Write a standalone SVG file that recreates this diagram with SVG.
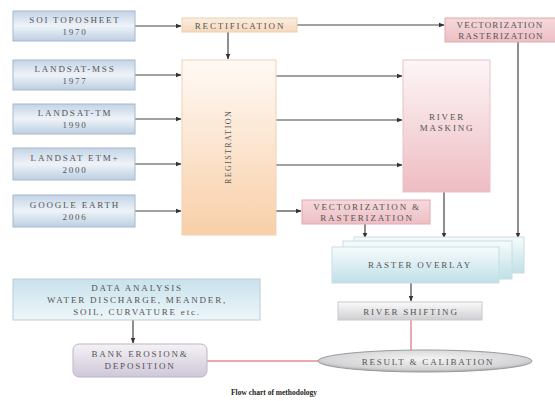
<svg xmlns="http://www.w3.org/2000/svg" width="555" height="401" viewBox="0 0 555 401">
<defs>
<linearGradient id="gBlue" x1="0" y1="0" x2="0" y2="1">
<stop offset="0" stop-color="#c3d4e6"/><stop offset="0.5" stop-color="#eef3f8"/><stop offset="1" stop-color="#bccfe2"/>
</linearGradient>
<linearGradient id="gOrange" x1="0" y1="0" x2="0" y2="1">
<stop offset="0" stop-color="#fffaf5"/><stop offset="1" stop-color="#f8cfa8"/>
</linearGradient>
<linearGradient id="gPeach" x1="0" y1="0" x2="0" y2="1">
<stop offset="0" stop-color="#fbeee0"/><stop offset="1" stop-color="#f5d8bb"/>
</linearGradient>
<linearGradient id="gPink" x1="0" y1="0" x2="0" y2="1">
<stop offset="0" stop-color="#fdf6f7"/><stop offset="1" stop-color="#eebcc2"/>
</linearGradient>
<linearGradient id="gPinkBox" x1="0" y1="0" x2="0" y2="1">
<stop offset="0" stop-color="#f6d9dc"/><stop offset="1" stop-color="#ecbfc4"/>
</linearGradient>
<linearGradient id="gCyan" x1="0" y1="0" x2="0" y2="1">
<stop offset="0" stop-color="#f7fbfc"/><stop offset="1" stop-color="#bfe0e7"/>
</linearGradient>
<linearGradient id="gData" x1="0" y1="0" x2="0" y2="1">
<stop offset="0" stop-color="#c8e2ec"/><stop offset="1" stop-color="#eef6f9"/>
</linearGradient>
<linearGradient id="gGrey" x1="0" y1="0" x2="0" y2="1">
<stop offset="0" stop-color="#fafafa"/><stop offset="1" stop-color="#cfcfd2"/>
</linearGradient>
<linearGradient id="gLav" x1="0" y1="0" x2="0" y2="1">
<stop offset="0" stop-color="#f4f2f6"/><stop offset="1" stop-color="#cfc7d8"/>
</linearGradient>
<radialGradient id="gEll" cx="0.5" cy="0.4" r="0.6">
<stop offset="0" stop-color="#f4f4f4"/><stop offset="0.8" stop-color="#d4d4d6"/><stop offset="1" stop-color="#a9a9ac"/>
</radialGradient>
<marker id="arr" viewBox="0 0 10 10" refX="9" refY="5" markerWidth="5" markerHeight="5" orient="auto">
<path d="M0,1 L10,5 L0,9 z" fill="#333"/>
</marker>
<style>
.t{font-family:"Liberation Serif","Times New Roman",serif;font-size:9px;fill:#555;text-anchor:middle;letter-spacing:1.8px}
.ln{stroke:#444;stroke-width:1.2;fill:none}
.pk{stroke:#e8a9b0;stroke-width:2;fill:none}
.src{fill:url(#gBlue);stroke:#a7b8c9;stroke-width:1}
</style>
</defs>

<g id="connectors">
<path class="ln" d="M135,26 H181" marker-end="url(#arr)"/>
<path class="ln" d="M135,75 H181" marker-end="url(#arr)"/>
<path class="ln" d="M135,119 H181" marker-end="url(#arr)"/>
<path class="ln" d="M135,164 H181" marker-end="url(#arr)"/>
<path class="ln" d="M135,211 H181" marker-end="url(#arr)"/>
<path class="ln" d="M228,32 V59" marker-end="url(#arr)"/>
<path class="ln" d="M297,25 H444" marker-end="url(#arr)"/>
<path class="ln" d="M276,76 H402" marker-end="url(#arr)"/>
<path class="ln" d="M276,120 H402" marker-end="url(#arr)"/>
<path class="ln" d="M276,165 H402" marker-end="url(#arr)"/>
<path class="ln" d="M276,211 H301" marker-end="url(#arr)"/>
<path class="ln" d="M518,42 V238" marker-end="url(#arr)"/>
<path class="ln" d="M444,192 V238" marker-end="url(#arr)"/>
<path class="ln" d="M365,224 V238" marker-end="url(#arr)"/>
<path class="ln" d="M411,283 V301" marker-end="url(#arr)"/>
<path class="ln" d="M133,320 V343" marker-end="url(#arr)"/>
<path class="pk" d="M411,320 V350"/>
<path class="pk" d="M207,361 H319"/>
</g>

<g id="soi">
<rect class="src" x="13" y="11" width="122" height="30"/>
<text class="t" x="75" y="23">SOI TOPOSHEET</text>
<text class="t" x="75" y="35">1970</text>
</g>
<g id="mss">
<rect class="src" x="13" y="60" width="122" height="30"/>
<text class="t" x="75" y="72">LANDSAT-MSS</text>
<text class="t" x="75" y="84">1977</text>
</g>
<g id="tm">
<rect class="src" x="13" y="104" width="122" height="30"/>
<text class="t" x="75" y="116">LANDSAT-TM</text>
<text class="t" x="75" y="128">1990</text>
</g>
<g id="etm">
<rect class="src" x="13" y="148" width="122" height="32"/>
<text class="t" x="75" y="161">LANDSAT ETM+</text>
<text class="t" x="75" y="173">2000</text>
</g>
<g id="google">
<rect class="src" x="13" y="195" width="122" height="32"/>
<text class="t" x="75" y="208">GOOGLE EARTH</text>
<text class="t" x="75" y="220">2006</text>
</g>

<g id="rectification">
<rect x="182" y="18" width="115" height="14" fill="url(#gPeach)" stroke="#efcfb0"/>
<text class="t" x="240" y="28.5">RECTIFICATION</text>
</g>

<g id="registration">
<rect x="182" y="60" width="94" height="175" fill="url(#gOrange)" stroke="#f0d2b4"/>
<text class="t" x="0" y="0" transform="translate(231,147) rotate(-90)" style="font-size:8px;letter-spacing:1.4px">REGISTRATION</text>
</g>

<g id="vecras-top">
<rect x="445" y="18" width="115" height="24" fill="url(#gPinkBox)" stroke="#e2a9b0"/>
<text class="t" x="500" y="28" style="letter-spacing:1.2px">VECTORIZATION</text>
<text class="t" x="501" y="39" style="letter-spacing:1.2px">RASTERIZATION</text>
</g>

<g id="river-masking">
<rect x="403" y="60" width="87" height="132" fill="url(#gPink)" stroke="#e7c3c7"/>
<text class="t" x="447" y="120">RIVER</text>
<text class="t" x="447" y="131">MASKING</text>
</g>

<g id="vecras-mid">
<rect x="302" y="200" width="128" height="24" fill="url(#gPinkBox)" stroke="#e2a9b0"/>
<text class="t" x="367" y="210">VECTORIZATION &amp;</text>
<text class="t" x="367" y="221">RASTERIZATION</text>
</g>

<g id="raster-overlay">
<rect x="354" y="237" width="170" height="36" fill="url(#gCyan)" stroke="#c8dde3"/>
<rect x="343" y="241" width="169" height="38" fill="url(#gCyan)" stroke="#c8dde3"/>
<rect x="332" y="247" width="167" height="36" fill="url(#gCyan)" stroke="#c8dde3"/>
<text class="t" x="420" y="268">RASTER OVERLAY</text>
</g>

<g id="river-shifting">
<rect x="338" y="302" width="144" height="18" fill="url(#gGrey)" stroke="#c9c9cc"/>
<text class="t" x="411" y="314.5">RIVER SHIFTING</text>
</g>

<g id="result">
<ellipse cx="425" cy="361" rx="107" ry="11" fill="url(#gEll)" stroke="#9a9a9d"/>
<text class="t" x="428" y="364.5">RESULT &amp; CALIBATION</text>
</g>

<g id="data-analysis">
<rect x="13" y="279" width="247" height="41" fill="url(#gData)" stroke="#b9ccd6"/>
<text class="t" x="137" y="291">DATA ANALYSIS</text>
<text class="t" x="137" y="303">WATER DISCHARGE, MEANDER,</text>
<text class="t" x="137" y="315">SOIL, CURVATURE etc.</text>
</g>

<g id="bank-erosion">
<rect x="73" y="344" width="134" height="33" rx="6" fill="url(#gLav)" stroke="#bdb5c6"/>
<text class="t" x="140" y="357">BANK EROSION&amp;</text>
<text class="t" x="140" y="369">DEPOSITION</text>
</g>

<text x="274" y="395" style="font-family:'Liberation Serif',serif;font-size:7.5px;font-weight:bold;fill:#222;text-anchor:middle">Flow chart of methodology</text>
</svg>
